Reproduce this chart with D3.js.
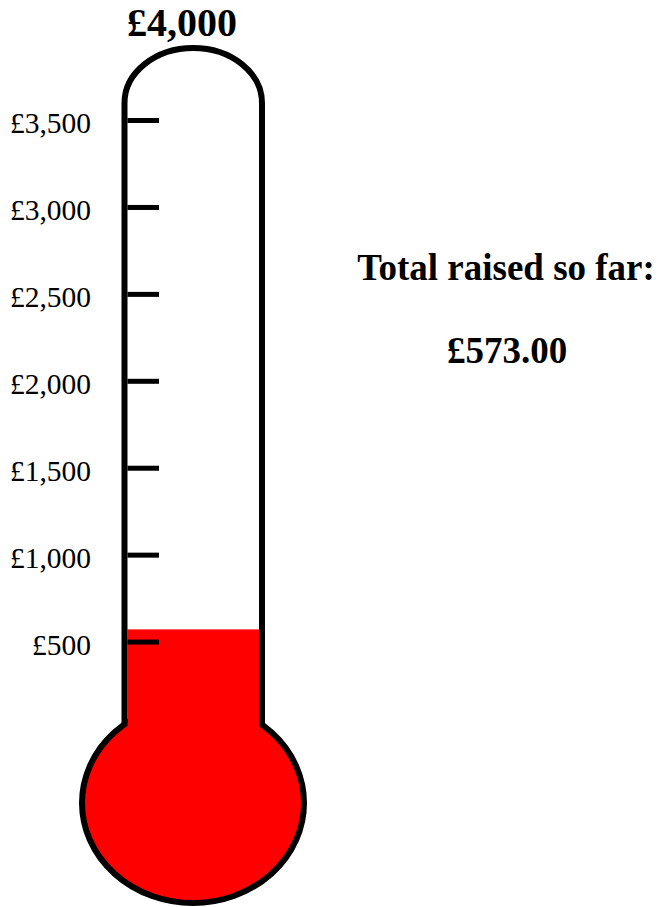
<!DOCTYPE html>
<html>
<head>
<meta charset="utf-8">
<script src="https://cdn.jsdelivr.net/npm/d3@7"></script>
<style>
  html, body { margin: 0; padding: 0; background: #fff; }
  svg { display: block; }
  text { font-family: "Liberation Serif", "Times New Roman", serif; fill: #000; }
</style>
</head>
<body>
<svg id="chart" width="666" height="907"></svg>
<script>
// values
var goal = 4000;
var raised = 573;
var tickValues = [500, 1000, 1500, 2000, 2500, 3000, 3500];
var captionLines = ["Total raised so far:"];

var svg = d3.select("#chart");

// value -> y in the tube (0 sits just above the bulb)
var y = d3.scaleLinear().domain([0, goal]).range([729, 33.6]);

var fmtTick = d3.format(",");
var fmtMoney = d3.format(",.2f");

// tube geometry
var tubeL = 124.5, tubeR = 262, tubeTop = 48, tubeBottom = 723;
var arcRx = (tubeR - tubeL) / 2, arcRy = 55;
var bulb = {cx: 193, cy: 803, rx: 111, ry: 100};

// bulb
svg.append("ellipse")
    .attr("cx", bulb.cx)
    .attr("cy", bulb.cy)
    .attr("rx", bulb.rx)
    .attr("ry", bulb.ry)
    .attr("fill", "#ff0000")
    .attr("stroke", "#000")
    .attr("stroke-width", 6);

// mercury in the tube
svg.append("rect")
    .attr("x", tubeL + 3)
    .attr("width", tubeR - tubeL - 6)
    .attr("y", y(raised))
    .attr("height", 760 - y(raised))
    .attr("fill", "#ff0000");

// tube outline
svg.append("path")
    .attr("d", "M" + tubeL + "," + tubeBottom +
               "L" + tubeL + "," + (tubeTop + arcRy) +
               "A" + arcRx + "," + arcRy + " 0 0 1 " + tubeR + "," + (tubeTop + arcRy) +
               "L" + tubeR + "," + tubeBottom)
    .attr("fill", "none")
    .attr("stroke", "#000")
    .attr("stroke-width", 6);

// tick marks
svg.selectAll("line.tick")
    .data(tickValues)
    .enter().append("line")
    .attr("class", "tick")
    .attr("x1", tubeL + 3)
    .attr("x2", 159)
    .attr("y1", function(d){ return y(d); })
    .attr("y2", function(d){ return y(d); })
    .attr("stroke", "#000")
    .attr("stroke-width", 5);

// tick labels
svg.selectAll("text.tlabel")
    .data(tickValues)
    .enter().append("text")
    .attr("class", "tlabel")
    .attr("x", 91)
    .attr("y", function(d){ return y(d); })
    .attr("dy", "0.43em")
    .attr("text-anchor", "end")
    .style("font-size", "29.5px")
    .text(function(d){ return "\u00a3" + fmtTick(d); });

// goal on top
svg.append("text")
    .attr("x", 182)
    .attr("y", 36)
    .attr("text-anchor", "middle")
    .style("font-size", "40px")
    .style("font-weight", "bold")
    .text("\u00a3" + fmtTick(goal));

// total raised
svg.selectAll("text.caption")
    .data(captionLines)
    .enter().append("text")
    .attr("class", "caption")
    .attr("x", 506)
    .attr("y", 280)
    .attr("text-anchor", "middle")
    .style("font-size", "37px")
    .style("font-weight", "bold")
    .text(function(d){ return d; });

svg.append("text")
    .attr("x", 507)
    .attr("y", 363)
    .attr("text-anchor", "middle")
    .style("font-size", "37px")
    .style("font-weight", "bold")
    .text("\u00a3" + fmtMoney(raised));
</script>
</body>
</html>
